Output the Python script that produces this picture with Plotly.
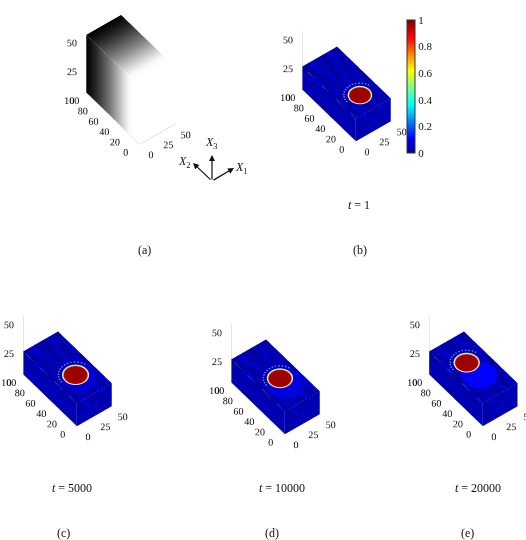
import numpy as np
import plotly.graph_objects as go

# ---- values ----
x1_ticks = [0, 25, 50]
x2_ticks = [0, 20, 40, 60, 80, 100]
x3_ticks = [0, 25, 50]
bar_ticks = [0, 0.2, 0.4, 0.6, 0.8, 1]
panel_labels = ["(a)", "(b)", "(c)", "(d)", "(e)"]

# grey level along x2 in panel (a): x2 position -> brightness
grey_x2 = [0, 10, 20, 30, 40, 50, 60, 70, 80, 90, 100]
grey_level = [1, 1, 0.98, 0.85, 0.7, 0.55, 0.42, 0.3, 0.18, 0.08, 0.0]

# drop panels: b, c, d, e
drop_x1 = [25, 25, 26, 23]
drop_x2 = [25, 35, 43, 60]
drop_r = [13.5, 15, 14.5, 14.5]
box_top = 20
# value across the drop edge: distance / radius -> value
edge_d = [0, 0.84, 0.9, 0.96, 1.0]
edge_v = [0.97, 0.97, 0.86, 0.45, 0.35]
# lighter trail behind the drop (x2 centre, radius, value); None where not visible
trail = [None, (28, 20, 0.07), (32, 22, 0.08), (36, 20, 0.11)]
# faint arc of specks round the drop (radius multiple)
arc_mult = [1.35, 1.3, 1.3, 1.3]
# coarse mottling read from the faces of the blue block (rows along x2)
mottle = [
    [0.02, 0.04, 0.03, 0.05, 0.02, 0.03, 0.06, 0.02, 0.03, 0.05],
    [0.03, 0.02, 0.05, 0.03, 0.06, 0.02, 0.04, 0.03, 0.02, 0.04],
    [0.02, 0.05, 0.02, 0.04, 0.03, 0.07, 0.02, 0.04, 0.05, 0.02],
    [0.04, 0.02, 0.03, 0.06, 0.02, 0.03, 0.05, 0.02, 0.03, 0.06],
    [0.02, 0.03, 0.07, 0.02, 0.04, 0.02, 0.03, 0.06, 0.02, 0.03],
]

jet = [[0, "#00008f"], [0.11, "#0000ff"], [0.36, "#00ffff"], [0.5, "#7fff7f"],
       [0.62, "#ffff00"], [0.87, "#ff0000"], [1, "#800000"]]
grey = [[0, "#000000"], [1, "#ffffff"]]
SERIF = "Liberation Serif"
W, H = 526, 540

# scene rectangles in pixels: left, top, right, bottom
scene_px = [(50, 0, 210, 190), (272, 0, 425, 190),
            (0, 265, 137, 455), (205, 273, 350, 463), (395, 265, 526, 455)]
# pixel where the middle of each box (data centre) should land
centre_px = [(130.5, 79.5), (346.5, 76.5), (67.5, 361.5), (275.5, 369.5), (473.5, 361.5)]
K = 0.463
AR = dict(x=1 * K, y=2 * K, z=1.96 * K)
az, el = np.radians(37.6), np.radians(48)
fwd = np.array([np.sin(az) * np.cos(el), np.cos(az) * np.cos(el), -np.sin(el)])
rgt = np.array([np.cos(az), -np.sin(az), 0])
upv = np.array([np.sin(az) * np.sin(el), np.cos(az) * np.sin(el), np.cos(el)])
PX_PER_UNIT = 44.2 / K

fig = go.Figure()
FLAT = dict(ambient=1, diffuse=0, specular=0, roughness=1, fresnel=0)


def face(sc, X, Y, Z, C, scale, cmin=0, cmax=1):
    fig.add_trace(go.Surface(x=X, y=Y, z=Z, surfacecolor=C, colorscale=scale, cmin=cmin, cmax=cmax,
                             showscale=False, lighting=FLAT, scene=sc, hoverinfo="skip"))


def mottled(u, v, umax, vmax):
    M = np.array(mottle)
    i = np.clip((v / vmax * M.shape[0]).astype(int), 0, M.shape[0] - 1)
    j = np.clip((u / umax * M.shape[1]).astype(int), 0, M.shape[1] - 1)
    return M[i, j]


# panel (a)
x_a = np.linspace(0, 50, 6)
y_a = np.linspace(0, 100, 41)
g = np.interp(y_a, grey_x2, grey_level)
XX, YY = np.meshgrid(x_a, y_a)
face("scene", XX, YY, XX * 0 + 50, np.tile(g[:, None], (1, len(x_a))), grey)
z_a = np.linspace(0, 50, 6)
YY, ZZ = np.meshgrid(y_a, z_a)
face("scene", YY * 0, YY, ZZ, np.tile(g, (len(z_a), 1)), grey)

# panels (b)-(e)
x = np.linspace(0, 50, 101)
y = np.linspace(0, 100, 201)
for n in range(4):
    sc = "scene%d" % (n + 2)
    XX, YY = np.meshgrid(x, y)
    d = np.hypot(XX - drop_x1[n], YY - drop_x2[n])
    C = mottled(XX, YY, 50, 100) + 0.0
    if trail[n]:
        C = np.where(np.hypot(XX - drop_x1[n], YY - trail[n][0]) < trail[n][1], trail[n][2], C)
    C = np.where(d < drop_r[n], np.interp(d / drop_r[n], edge_d, edge_v), C)
    kw = dict(showscale=False)
    if n == 0:
        kw = dict(showscale=True, colorbar=dict(
            x=407 / W, xanchor="left", y=1 - 153 / H, yanchor="bottom", len=133 / H, lenmode="fraction",
            thickness=8, thicknessmode="pixels", tickvals=bar_ticks,
            ticktext=["0", "0.2", "0.4", "0.6", "0.8", "1"],
            ticks="", outlinewidth=1, outlinecolor="#333", xpad=0, ypad=0,
            tickfont=dict(family=SERIF, size=11, color="#111")))
    fig.add_trace(go.Surface(x=XX, y=YY, z=XX * 0 + box_top, surfacecolor=C, colorscale=jet, cmin=0, cmax=1,
                             lighting=FLAT, scene=sc, hoverinfo="skip", **kw))
    t = np.linspace(0, 2 * np.pi, 90)
    fig.add_trace(go.Scatter3d(x=drop_x1[n] + drop_r[n] * np.cos(t), y=drop_x2[n] + drop_r[n] * np.sin(t),
                               z=t * 0 + box_top + 0.2, mode="lines", line=dict(color="#eef6ee", width=1.5),
                               scene=sc, hoverinfo="skip", showlegend=False))
    ta = np.radians(np.arange(20, 180, 12))
    R = drop_r[n] * arc_mult[n]
    fig.add_trace(go.Scatter3d(x=drop_x1[n] + R * np.cos(ta), y=drop_x2[n] + R * np.sin(ta),
                               z=ta * 0 + box_top + 0.2, mode="markers",
                               marker=dict(color="#6f88f0", size=1),
                               scene=sc, hoverinfo="skip", showlegend=False))
    z = np.linspace(0, box_top, 11)
    YY2, ZZ2 = np.meshgrid(y, z)
    face(sc, YY2 * 0, YY2, ZZ2, mottled(ZZ2, YY2, box_top, 100), jet)
    XX3, ZZ3 = np.meshgrid(x, z)
    face(sc, XX3, XX3 * 0, ZZ3, mottled(XX3, ZZ3 * 5, 50, 100), jet)


def ax(vals, rng):
    return dict(range=rng, tickvals=vals, ticktext=[str(v) for v in vals], title=dict(text=""), showgrid=False,
                zeroline=False, showbackground=False, showline=True, linecolor="#c8c8c8", linewidth=1, ticks="",
                tickangle=0, tickfont=dict(family=SERIF, size=11, color="#111"), showspikes=False)


layout = {}
for i, (l, t, r, b) in enumerate(scene_px):
    key = "scene" if i == 0 else "scene%d" % (i + 1)
    dx = centre_px[i][0] - (l + r) / 2
    dy = centre_px[i][1] - (t + b) / 2
    look = (-dx * rgt + dy * upv) / PX_PER_UNIT
    eye = look - 3.0 * fwd
    layout[key] = dict(
        domain=dict(x=[l / W, r / W], y=[1 - b / H, 1 - t / H]),
        aspectmode="manual", aspectratio=AR,
        camera=dict(eye=dict(x=eye[0], y=eye[1], z=eye[2]), up=dict(x=0, y=0, z=1),
                    center=dict(x=look[0], y=look[1], z=look[2]),
                    projection=dict(type="orthographic")),
        xaxis=ax(x1_ticks, [0, 50]), yaxis=ax(x2_ticks, [0, 100]), zaxis=ax(x3_ticks, [0, 50]))


def text(px, py, s, size=12):
    return dict(x=px / W, y=1 - py / H, xref="paper", yref="paper", text=s, showarrow=False,
                font=dict(family=SERIF, size=size, color="#111"), xanchor="center", yanchor="middle")


def arrow(x0, y0, x1_, y1_):
    return dict(x=x1_ / W, y=1 - y1_ / H, xref="paper", yref="paper", ax=x0 - x1_, ay=y0 - y1_,
                axref="pixel", ayref="pixel", text="", showarrow=True, arrowhead=2, arrowsize=1,
                arrowwidth=1.2, arrowcolor="#111")


annotations = [
    text(144, 250, panel_labels[0]), text(360, 250, panel_labels[1]),
    text(63, 533, panel_labels[2]), text(272, 533, panel_labels[3]), text(467, 533, panel_labels[4]),
    text(359, 205, "<i>t</i> = 1"), text(72, 488, "<i>t</i> = 5000"),
    text(282, 488, "<i>t</i> = 10000"), text(478, 488, "<i>t</i> = 20000"),
    arrow(212, 181, 212, 155), arrow(212, 181, 234, 168), arrow(212, 181, 193, 163),
    text(211, 143, "<i>X</i><sub>3</sub>"), text(241, 168, "<i>X</i><sub>1</sub>"), text(184, 162, "<i>X</i><sub>2</sub>"),
]
fig.update_layout(width=W, height=H, margin=dict(l=0, r=0, t=0, b=0), paper_bgcolor="white",
                  showlegend=False, annotations=annotations, **layout)
fig.write_html("out.html", post_script="document.body.style.margin='0';", config={"displayModeBar": False})
